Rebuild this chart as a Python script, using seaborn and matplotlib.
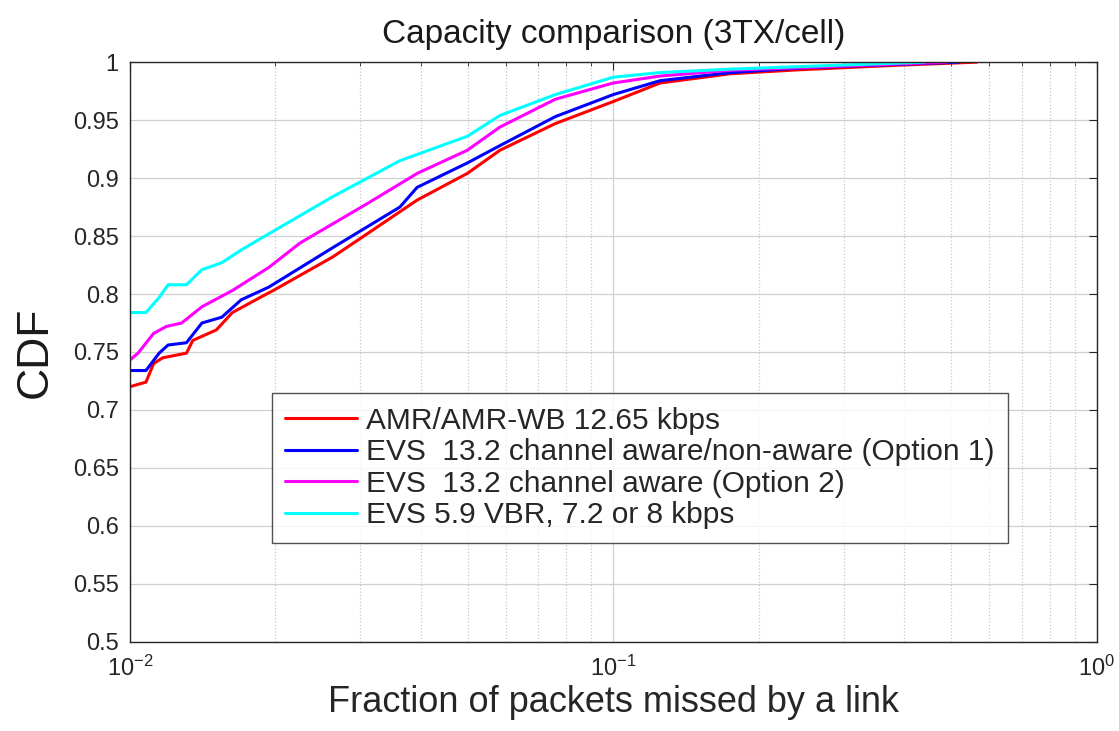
import matplotlib
matplotlib.use("Agg")
import matplotlib.pyplot as plt
import matplotlib.ticker as mticker
import seaborn as sns
import pandas as pd

# Values
amr_x = [0.0100, 0.0108, 0.0112, 0.0117, 0.0131, 0.0135, 0.0151, 0.0163, 0.0186, 0.0198,
         0.0263, 0.0310, 0.0393, 0.0499, 0.0583, 0.0759, 0.1000, 0.125, 0.175, 0.245, 0.372, 0.565]
amr_y = [0.720, 0.724, 0.740, 0.745, 0.749, 0.760, 0.769, 0.784, 0.797, 0.803,
         0.832, 0.852, 0.881, 0.904, 0.924, 0.947, 0.966, 0.982, 0.990, 0.9935, 0.997, 1.000]

evs1_x = [0.0100, 0.0108, 0.0115, 0.0120, 0.0131, 0.0141, 0.0155, 0.0170, 0.0194,
          0.0263, 0.0362, 0.0393, 0.0499, 0.0583, 0.0759, 0.1000, 0.125, 0.175, 0.245, 0.520]
evs1_y = [0.734, 0.734, 0.749, 0.756, 0.758, 0.775, 0.780, 0.795, 0.806,
          0.840, 0.875, 0.892, 0.913, 0.928, 0.953, 0.972, 0.984, 0.991, 0.995, 1.000]

evs2_x = [0.0100, 0.0104, 0.0112, 0.0119, 0.0128, 0.0141, 0.0163, 0.0194, 0.0225,
          0.0310, 0.0393, 0.0499, 0.0583, 0.0759, 0.1000, 0.125, 0.175, 0.490]
evs2_y = [0.743, 0.749, 0.766, 0.772, 0.775, 0.789, 0.803, 0.823, 0.844,
          0.878, 0.904, 0.924, 0.944, 0.968, 0.982, 0.988, 0.993, 1.000]

evs3_x = [0.0100, 0.0108, 0.0115, 0.0120, 0.0131, 0.0141, 0.0155, 0.0170, 0.0194,
          0.0263, 0.0362, 0.0499, 0.0583, 0.0759, 0.1000, 0.125, 0.175, 0.440]
evs3_y = [0.784, 0.784, 0.797, 0.808, 0.808, 0.821, 0.827, 0.838, 0.852,
          0.884, 0.915, 0.936, 0.954, 0.972, 0.987, 0.991, 0.994, 1.000]

labels = ["AMR/AMR-WB 12.65 kbps",
          "EVS  13.2 channel aware/non-aware (Option 1)",
          "EVS  13.2 channel aware (Option 2)",
          "EVS 5.9 VBR, 7.2 or 8 kbps"]
colors = ["#ff0000", "#0000ff", "#ff00ff", "#00ffff"]

frames = []
for lab, xs, ys in zip(labels, [amr_x, evs1_x, evs2_x, evs3_x], [amr_y, evs1_y, evs2_y, evs3_y]):
    frames.append(pd.DataFrame({"x": xs, "y": ys, "series": lab}))
df = pd.concat(frames, ignore_index=True)

sns.set_style("white")
plt.rcParams["font.family"] = ["Liberation Sans", "DejaVu Sans"]

fig = plt.figure(figsize=(11.19, 7.31), dpi=100)
ax = fig.add_axes([0.116, 0.122, 0.864, 0.793])

sns.lineplot(data=df, x="x", y="y", hue="series", palette=colors, hue_order=labels,
             estimator=None, sort=False, linewidth=2.2, ax=ax)

ax.set_xscale("log")
ax.set_xlim(0.01, 1)
ax.set_ylim(0.5, 1)
ax.set_yticks([0.5 + 0.05 * i for i in range(11)])
ax.yaxis.set_major_formatter(mticker.FuncFormatter(lambda v, p: f"{v:g}"))
ax.xaxis.set_major_locator(mticker.LogLocator(base=10))
ax.xaxis.set_minor_locator(mticker.LogLocator(base=10, subs=range(2, 10)))
ax.xaxis.set_minor_formatter(mticker.NullFormatter())

ax.grid(True, which="major", color="#d0d0d0", linestyle="-", linewidth=0.9)
ax.grid(True, which="minor", axis="x", color="#c8c8c8", linestyle=":", linewidth=0.9)
ax.tick_params(which="both", direction="in", top=True, right=True, labelsize=17, colors="#262626")
ax.tick_params(which="major", length=6)
ax.tick_params(which="minor", length=3)
ax.tick_params(axis="x", which="major", pad=10)
ax.tick_params(axis="y", which="major", pad=8)
for s in ax.spines.values():
    s.set_color("#262626")
    s.set_linewidth(1)

ax.set_title("Capacity comparison (3TX/cell)", fontsize=24, pad=14, color="#1a1a1a")
ax.set_xlabel("Fraction of packets missed by a link", fontsize=26, color="#262626", labelpad=3)
ax.set_ylabel("CDF", fontsize=32, color="#1a1a1a", labelpad=12)

leg = ax.legend(loc="lower left", bbox_to_anchor=(0.147, 0.171), fontsize=21.5,
                frameon=True, fancybox=False, edgecolor="#262626", handlelength=2.4,
                handletextpad=0.3, borderpad=0.45, labelspacing=0.12, borderaxespad=0)
leg.get_frame().set_linewidth(1)

fig.savefig("out.png", dpi=100)
